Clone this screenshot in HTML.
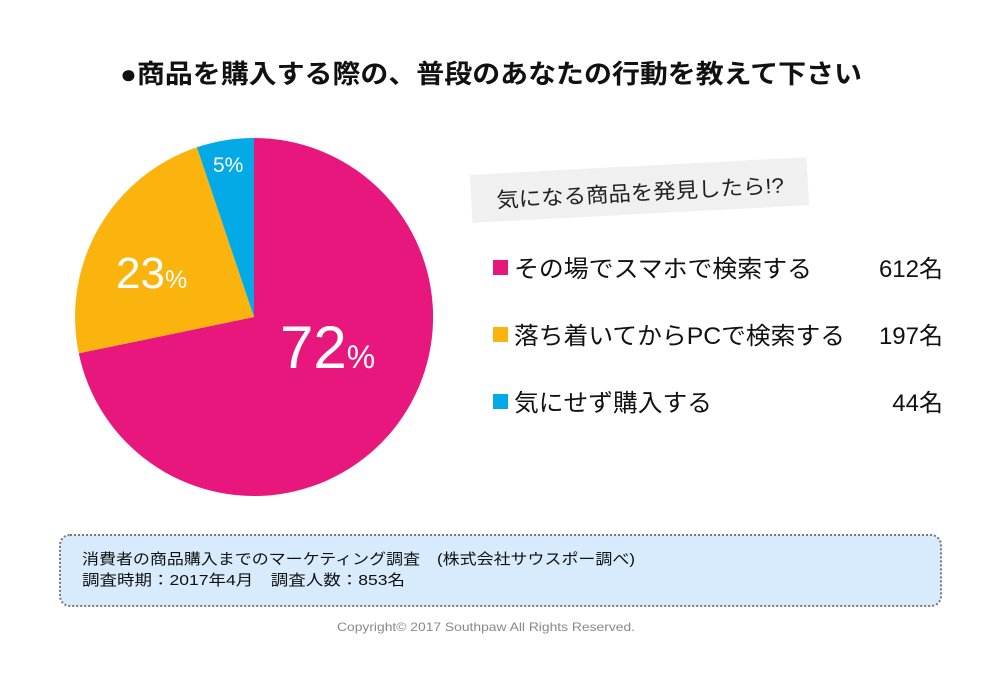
<!DOCTYPE html>
<html><head><meta charset="utf-8"><style>
body{margin:0;width:1000px;height:677px;background:#fff;position:relative;overflow:hidden;font-family:"Liberation Sans","Noto Sans CJK JP",sans-serif;color:#111}
.a{position:absolute;white-space:nowrap}
</style></head><body>
<svg class="a" style="left:0;top:0" width="1000" height="677" font-family="Liberation Sans, Noto Sans CJK JP, sans-serif">
<text x="120" y="83" font-size="26" font-weight="bold" fill="#111" textLength="742" lengthAdjust="spacingAndGlyphs">●商品を購入する際の、普段のあなたの行動を教えて下さい</text>
<path d="M254,317 L254,138 A179,179 0 1 1 78.8,353.3 Z" fill="#e8177d"/>
<path d="M254,317 L78.8,353.3 A179,179 0 0 1 196.9,147.3 Z" fill="#fbb30e"/>
<path d="M254,317 L196.9,147.3 A179,179 0 0 1 254,138 Z" fill="#03aae6"/>
<text x="116" y="288" font-size="44" fill="#fff">23<tspan font-size="25">%</tspan></text>
<text x="280" y="368" font-size="60" fill="#fff">72<tspan font-size="32">%</tspan></text>
<text x="213" y="172" font-size="21" fill="#fff">5%</text>
<g transform="rotate(-3 640 190)"><rect x="471" y="166" width="337" height="48" fill="#f0f0f0"/>
<text x="496" y="200" font-size="21" fill="#222" textLength="288" lengthAdjust="spacingAndGlyphs">気になる商品を発見したら!?</text></g>
<rect x="493" y="260" width="15" height="15" fill="#e8177d"/>
<rect x="493" y="327" width="15" height="15" fill="#fbb30e"/>
<rect x="493" y="394" width="15" height="15" fill="#03aae6"/>
<g font-size="24" fill="#111">
<text x="514" y="277" textLength="298" lengthAdjust="spacingAndGlyphs">その場でスマホで検索する</text>
<text x="514" y="344" textLength="331" lengthAdjust="spacingAndGlyphs">落ち着いてからPCで検索する</text>
<text x="514" y="411" textLength="198" lengthAdjust="spacingAndGlyphs">気にせず購入する</text>
<text x="943" y="277" text-anchor="end">612名</text>
<text x="943" y="344" text-anchor="end">197名</text>
<text x="943" y="411" text-anchor="end">44名</text>
</g>
<rect x="60" y="535" width="881" height="71" rx="10" fill="#d7ebfc" stroke="#777" stroke-width="2" stroke-dasharray="2 2"/>
<g font-size="15" fill="#111">
<text x="82" y="564" textLength="553" lengthAdjust="spacingAndGlyphs">消費者の商品購入までのマーケティング調査　(株式会社サウスポー調べ)</text>
<text x="82" y="585" textLength="323" lengthAdjust="spacingAndGlyphs">調査時期：2017年4月　調査人数：853名</text>
</g>
<text x="337" y="631" font-size="12" fill="#888" textLength="298" lengthAdjust="spacingAndGlyphs">Copyright© 2017 Southpaw All Rights Reserved.</text>
</svg>
</body></html>
